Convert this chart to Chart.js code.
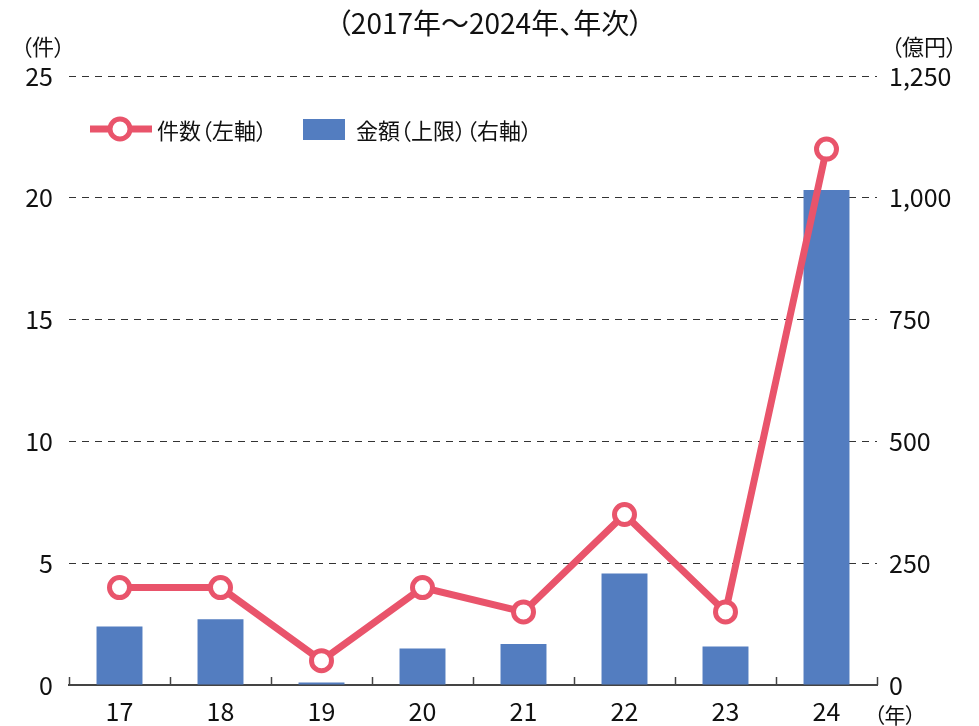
<!DOCTYPE html>
<html><head><meta charset="utf-8">
<script src="https://cdn.jsdelivr.net/npm/chart.js@4"></script>
<style>
html,body{margin:0;padding:0;background:#fff}
#w{width:979px;height:726px;position:relative}
.t{position:absolute;height:40px;line-height:40px;white-space:nowrap;color:#111;
   font-family:"Noto Sans CJK JP","Noto Sans",sans-serif;font-feature-settings:"palt";}
</style>
</head><body><div id="w"><canvas id="c" width="979" height="726"></canvas>
<div class="t" id="title" style="left:490px;top:2px;font-size:28px;transform:translateX(-50%)"></div>
<div class="t" id="lu" style="left:21px;top:25px;font-size:22px"></div>
<div class="t" id="ru" style="left:891px;top:25px;font-size:22px"></div>
<div class="t" id="xu" style="left:874px;top:694px;font-size:21px"></div>
<div class="t" id="lg1" style="left:157px;top:109px;font-size:22px"></div>
<div class="t" id="lg2" style="left:356px;top:109px;font-size:22px"></div>
</div>
<script>
const categories = ['17','18','19','20','21','22','23','24'];
const countValues = [4, 4, 1, 4, 3, 7, 3, 22];
const amountValues = [120, 135, 5, 75, 84, 229, 79, 1016];
const leftTicks = [0, 5, 10, 15, 20, 25];
const rightTicks = [0, 250, 500, 750, 1000, 1250];
const titleText = '（2017年～2024年、年次）';
const leftUnit = '（件）';
const rightUnit = '（億円）';
const xUnit = '（年）';
const countLabel = '件数（左軸）';
const amountLabel = '金額（上限）（右軸）';

document.getElementById('title').textContent = titleText;
document.getElementById('lu').textContent = leftUnit;
document.getElementById('ru').textContent = rightUnit;
document.getElementById('xu').textContent = xUnit;
document.getElementById('lg1').textContent = countLabel;
document.getElementById('lg2').textContent = amountLabel;

const FONT = '"Noto Sans CJK JP", "Noto Sans", sans-serif';
const PINK = '#E9546B';
const BLUE = '#537DC0';
const TXT = '#111';

const extras = {
  id: 'extras',
  afterDraw(chart) {
    const ctx = chart.ctx;
    const a = chart.chartArea;
    const x = chart.scales.x;
    ctx.save();
    ctx.strokeStyle = '#444';
    ctx.lineWidth = 1.5;
    const n = categories.length;
    const step = (x.right - x.left) / n;
    for (let i = 0; i <= n; i++) {
      const px = Math.round(x.left + step * i) + 0.5;
      ctx.beginPath();
      ctx.moveTo(px, a.bottom);
      ctx.lineTo(px, a.bottom - 8);
      ctx.stroke();
    }
    // legend markers
    const ly = 129;
    ctx.strokeStyle = PINK;
    ctx.lineWidth = 7;
    ctx.beginPath();
    ctx.moveTo(90, ly); ctx.lineTo(152, ly); ctx.stroke();
    ctx.beginPath();
    ctx.arc(120, ly, 10, 0, Math.PI * 2);
    ctx.fillStyle = '#fff'; ctx.fill();
    ctx.lineWidth = 5; ctx.stroke();
    ctx.fillStyle = BLUE;
    ctx.fillRect(303, 119, 42, 21);
    ctx.restore();
  }
};

new Chart(document.getElementById('c'), {
  data: {
    labels: categories,
    datasets: [
      {
        type: 'line', label: countLabel, data: countValues, yAxisID: 'y',
        borderColor: PINK, borderWidth: 7, pointRadius: 10, pointBorderWidth: 5,
        pointBackgroundColor: '#fff', pointBorderColor: PINK, tension: 0, order: 0
      },
      {
        type: 'bar', label: amountLabel, data: amountValues, yAxisID: 'y1',
        backgroundColor: BLUE, barPercentage: 0.455, categoryPercentage: 1, order: 1
      }
    ]
  },
  options: {
    responsive: false, animation: false,
    layout: { padding: { top: 76, left: 0, right: 0, bottom: 0 } },
    plugins: { legend: { display: false }, title: { display: false }, tooltip: { enabled: false } },
    scales: {
      x: {
        offset: true,
        grid: { display: false, drawTicks: false },
        border: { display: true, color: '#444', width: 2 },
        ticks: { color: TXT, font: { family: FONT, size: 25 }, padding: 11, maxRotation: 0 },
        afterFit(s) { s.height = 41; }
      },
      y: {
        position: 'left', min: 0, max: 25,
        afterBuildTicks(s) { s.ticks = leftTicks.map(v => ({ value: v })); },
        grid: { color: c => c.tick && c.tick.value === 0 ? 'rgba(0,0,0,0)' : '#333', lineWidth: 1, drawTicks: false },
        border: { display: false, dash: [7, 6] },
        ticks: { color: TXT, font: { family: FONT, size: 25 }, padding: 16 },
        afterFit(s) { s.width = 69; }
      },
      y1: {
        position: 'right', min: 0, max: 1250,
        afterBuildTicks(s) { s.ticks = rightTicks.map(v => ({ value: v })); },
        grid: { drawOnChartArea: false, drawTicks: false },
        border: { display: false },
        ticks: { color: TXT, font: { family: FONT, size: 25 }, padding: 12,
          callback: v => v.toLocaleString('en-US') },
        afterFit(s) { s.width = 102; }
      }
    }
  },
  plugins: [extras]
});
</script></body></html>
